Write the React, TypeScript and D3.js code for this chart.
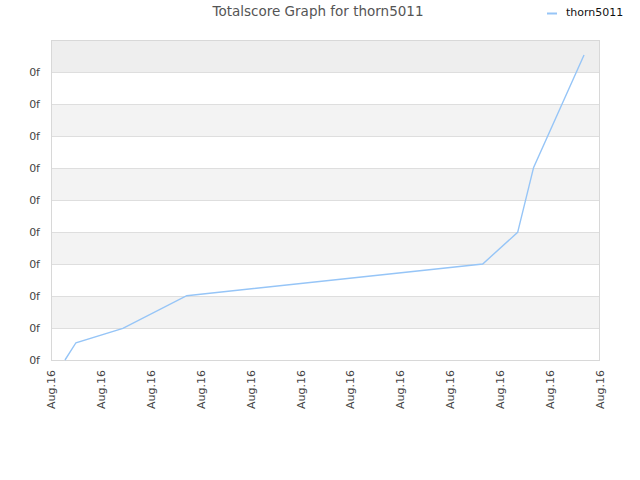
import React from "react";
import * as d3 from "d3";

const title = "Totalscore Graph for thorn5011";
const seriesName = "thorn5011";
const xTickValues = [0, 1, 2, 3, 4, 5, 6, 7, 8, 9, 10, 11];
const xTickLabels = ["Aug.16", "Aug.16", "Aug.16", "Aug.16", "Aug.16", "Aug.16", "Aug.16", "Aug.16", "Aug.16", "Aug.16", "Aug.16", "Aug.16"];
const yTickValues = [0, 1, 2, 3, 4, 5, 6, 7, 8, 9];
const yTickLabels = ["0f", "0f", "0f", "0f", "0f", "0f", "0f", "0f", "0f", "0f"];
const seriesX = [0.28, 0.5, 1.44, 2.72, 8.65, 9.35, 9.67, 10.68];
const seriesY = [0, 0.54, 0.99, 2.01, 3.0, 3.99, 6.02, 9.53];

const W = 640, H = 480;
const left = 51, right = 600, top = 40, bottom = 360;
const lineColor = "#96c5f7";
const font = "DejaVu Sans, sans-serif";

export default function App() {
  const x = d3.scaleLinear().domain([0, 11]).range([left, right]);
  const y = d3.scaleLinear().domain([0, 10]).range([bottom, top]);
  const bands = d3.range(0, 10);
  const line = d3.line<number>().x((_, i) => x(seriesX[i])).y((d) => y(d));
  return (
    <svg width={W} height={H} style={{ position: "absolute", left: 0, top: 0, background: "#fff" }}>
      <rect x={0} y={0} width={W} height={H} fill="#fff" />
      {bands.map((b) => (
        <rect key={b} x={left} y={y(b + 1)} width={right - left} height={y(b) - y(b + 1)}
          fill={b === 9 ? "#eeeeee" : b % 2 === 1 ? "#f3f3f3" : "#ffffff"} />
      ))}
      {yTickValues.map((v) => (
        <line key={v} x1={left} x2={right} y1={y(v) + 0.5} y2={y(v) + 0.5} stroke="#dedede" />
      ))}
      <rect x={left + 0.5} y={top + 0.5} width={right - left - 1} height={bottom - top} fill="none" stroke="#d8d8d8" />
      <path d={line(seriesY) || ""} fill="none" stroke={lineColor} strokeWidth={1.4} />
      {yTickValues.map((v, i) => (
        <text key={v} x={40} y={y(v) + 4} textAnchor="end" fontFamily={font} fontSize={11} fill="#444">{yTickLabels[i]}</text>
      ))}
      {xTickValues.map((v, i) => (
        <text key={v} transform={`translate(${x(v) + 4},${370}) rotate(-90)`} textAnchor="end"
          fontFamily={font} fontSize={11} fill="#444">{xTickLabels[i]}</text>
      ))}
      <text x={318} y={16} textAnchor="middle" fontFamily={font} fontSize={13.5} fill="#555">{title}</text>
      <line x1={547} x2={557} y1={13.5} y2={13.5} stroke={lineColor} strokeWidth={2} />
      <text x={566} y={16} fontFamily={font} fontSize={11} fill="#111">{seriesName}</text>
    </svg>
  );
}
